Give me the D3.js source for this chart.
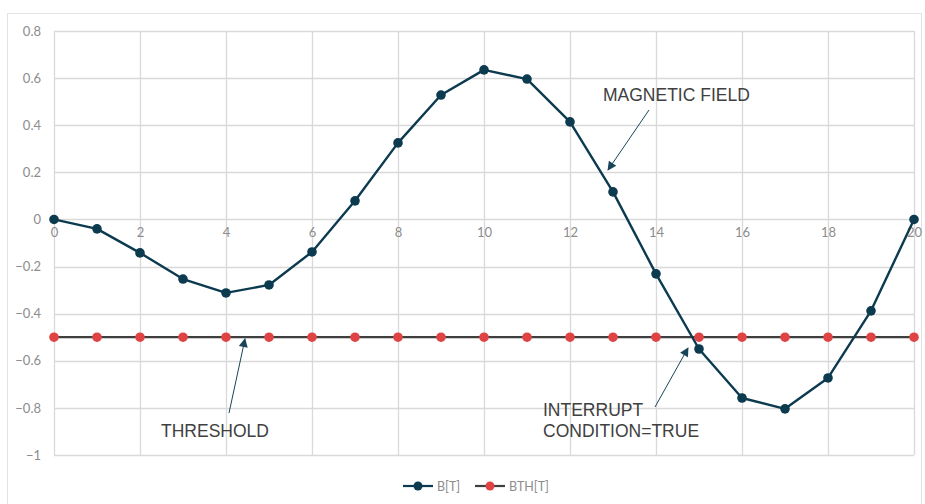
<!DOCTYPE html>
<html><head><meta charset="utf-8">
<script src="https://cdn.jsdelivr.net/npm/d3@7"></script>
<style>body{margin:0;background:#fff;} svg{display:block;}</style>
</head><body>
<svg id="c" width="925" height="504"></svg>
<script>
const xValues = [0,1,2,3,4,5,6,7,8,9,10,11,12,13,14,15,16,17,18,19,20];
const bValues = [0,-0.04,-0.142,-0.253,-0.312,-0.278,-0.138,0.079,0.325,0.528,0.635,0.596,0.414,0.117,-0.231,-0.55,-0.758,-0.804,-0.673,-0.388,0];
const bthValues = [-0.5,-0.5,-0.5,-0.5,-0.5,-0.5,-0.5,-0.5,-0.5,-0.5,-0.5,-0.5,-0.5,-0.5,-0.5,-0.5,-0.5,-0.5,-0.5,-0.5,-0.5];
const xTicks = [0,2,4,6,8,10,12,14,16,18,20];
const yTicks = [0.8,0.6,0.4,0.2,0,-0.2,-0.4,-0.6,-0.8,-1];
const seriesNames = ["B[T]","BTH[T]"];
const annotations = [
  {lines:["MAGNETIC FIELD"], tx:603, ty:101, from:[649,110], to:[608,170]},
  {lines:["THRESHOLD"], tx:161, ty:437, from:[229,413], to:[245,339]},
  {lines:["INTERRUPT","CONDITION=TRUE"], tx:543, ty:416, from:[655,407], to:[688,348]}
];

const svg = d3.select("#c");
const x = d3.scaleLinear().domain([0,20]).range([54,914]);
const y = d3.scaleLinear().domain([-1,0.8]).range([455,31]);

svg.append("rect").attr("x",7.5).attr("y",13.5).attr("width",914).attr("height",520)
  .attr("fill","none").attr("stroke","#e3e3e3");

const grid = svg.append("g");
grid.selectAll(".hg").data(yTicks).join("line")
  .attr("x1",x(0)).attr("x2",x(20)).attr("y1",d=>Math.round(y(d))+0.5).attr("y2",d=>Math.round(y(d))+0.5)
  .attr("stroke","#d9d9d9").attr("stroke-width",1.3);
grid.selectAll(".vg").data(xTicks).join("line")
  .attr("x1",d=>Math.round(x(d))+0.5).attr("x2",d=>Math.round(x(d))+0.5).attr("y1",y(0.8)).attr("y2",y(-1))
  .attr("stroke","#d9d9d9").attr("stroke-width",1.3);

const yAxis = d3.axisLeft(y).tickValues(yTicks).tickSize(0).tickPadding(0).tickFormat(d=>d3.format("")(+d.toFixed(1)));
const ga = svg.append("g").attr("transform","translate(41,0)").call(yAxis);
ga.select(".domain").remove();
ga.selectAll("text").attr("fill","#8c8c8c").style("font-family","Lato, 'Open Sans', sans-serif").style("font-size","13px");

const xAxis = d3.axisBottom(x).tickValues(xTicks).tickSize(0).tickPadding(0).tickFormat(d3.format("d"));
const gx = svg.append("g").attr("transform",`translate(0,${y(0)+8})`).call(xAxis);
gx.select(".domain").remove();
gx.selectAll("text").attr("fill","#8c8c8c").style("font-family","Lato, 'Open Sans', sans-serif").style("font-size","13px");

const bColor = "#0c3a4f", thLine = "#3f3f3f", thDot = "#e04343";
const line = d3.line().x((d,i)=>x(xValues[i])).y(d=>y(d));

svg.append("path").datum(bthValues).attr("d",line).attr("fill","none").attr("stroke",thLine).attr("stroke-width",2.2);
svg.selectAll(".thd").data(bthValues).join("circle")
  .attr("cx",(d,i)=>x(xValues[i])).attr("cy",d=>y(d)).attr("r",4.8).attr("fill",thDot);

svg.append("path").datum(bValues).attr("d",line).attr("fill","none").attr("stroke",bColor).attr("stroke-width",2.4).attr("stroke-linejoin","round");
svg.selectAll(".bd").data(bValues).join("circle")
  .attr("cx",(d,i)=>x(xValues[i])).attr("cy",d=>y(d)).attr("r",4.8).attr("fill",bColor);

const defs = svg.append("defs");
defs.append("marker").attr("id","ah").attr("viewBox","0 0 10 10").attr("refX",9).attr("refY",5)
  .attr("markerWidth",11).attr("markerHeight",9).attr("markerUnits","userSpaceOnUse").attr("orient","auto")
  .append("path").attr("d","M0,0 L10,5 L0,10 Z").attr("fill","#1a4558");
annotations.forEach(a=>{
  svg.append("line").attr("x1",a.from[0]).attr("y1",a.from[1]).attr("x2",a.to[0]).attr("y2",a.to[1])
    .attr("stroke","#1a4558").attr("stroke-width",1).attr("marker-end","url(#ah)");
  const t = svg.append("text").attr("x",a.tx).attr("y",a.ty).attr("fill","#404040")
    .style("font-family","'Liberation Sans', Arial, sans-serif").style("font-size","17.5px");
  a.lines.forEach((l,i)=>t.append("tspan").attr("x",a.tx).attr("dy",i?21:0).text(l));
});

const leg = svg.append("g");
const items = [{name:seriesNames[0], lc:bColor, dc:bColor, x0:403},{name:seriesNames[1], lc:thLine, dc:thDot, x0:475}];
items.forEach(it=>{
  leg.append("line").attr("x1",it.x0).attr("x2",it.x0+30).attr("y1",486).attr("y2",486).attr("stroke",it.lc).attr("stroke-width",2.2);
  leg.append("circle").attr("cx",it.x0+15).attr("cy",486).attr("r",4.5).attr("fill",it.dc);
  leg.append("text").attr("x",it.x0+34).attr("y",490.5).text(it.name).attr("fill","#8c8c8c")
    .style("font-family","Lato, 'Open Sans', sans-serif").style("font-size","12.5px");
});
</script>
</body></html>
